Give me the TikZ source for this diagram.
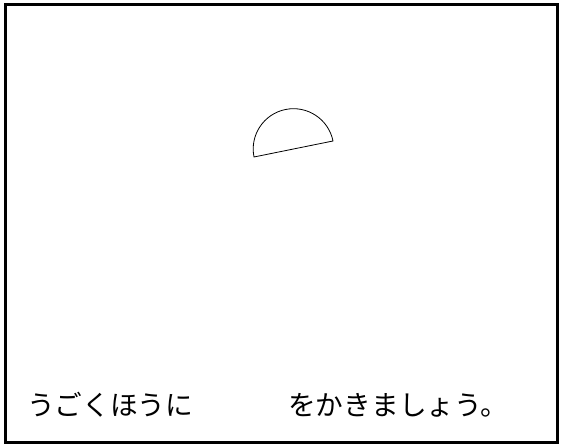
\documentclass[tikz,border=0pt]{standalone}
\usepackage{fontspec}
\newfontfamily\jpfont{Noto Sans CJK JP}
\usepackage{tikz}
\usetikzlibrary{calc}

\begin{document}
\begin{tikzpicture}[x=1pt, y=1pt,
  msgtext/.style={font=\jpfont\fontsize{27.7}{33}\selectfont, inner sep=0pt, anchor=base west}]
  \useasboundingbox (0,0) rectangle (563,446);

  % Frame
  \draw[line width=2.4pt] (5.5,3.5) rectangle (557.5,441.5);

  % Half disc
  \coordinate (hcenter) at (293.5,297);
  \coordinate (hright) at ($(hcenter)+(11.45:40.3)$);
  \draw[line width=0.8pt] (hright) arc[start angle=11.45, end angle=191.45, radius=40.3] -- cycle;

  % Instruction
  \node[msgtext] (lefttext) at (27,30) {うごくほうに};
  \node[msgtext] (righttext) at (288,30) {をかきましょう。};
\end{tikzpicture}
\end{document}
